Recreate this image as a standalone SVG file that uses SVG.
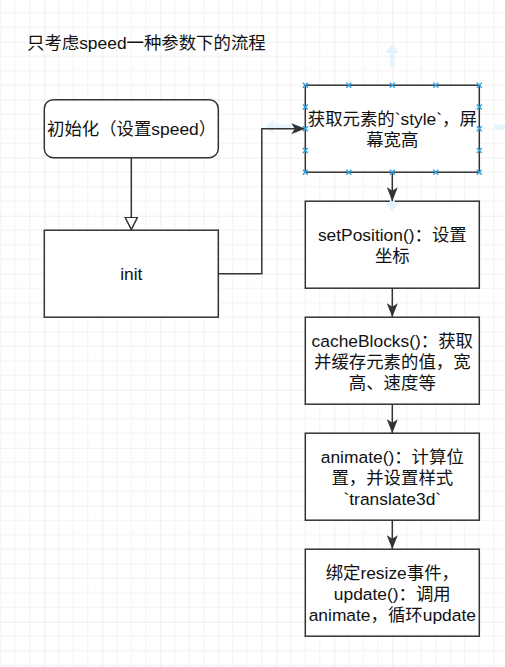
<svg xmlns="http://www.w3.org/2000/svg" width="505" height="667" viewBox="0 0 505 667">
<defs>
<pattern id="grid" x="44.3" y="41.7" width="58" height="58" patternUnits="userSpaceOnUse">
<path d="M14.5,0V58M29,0V58M43.5,0V58M0,14.5H58M0,29H58M0,43.5H58" stroke="#f2f2f2" stroke-width="1" fill="none"/>
<path d="M0,0V58M0,0H58" stroke="#e2e2e2" stroke-width="1" fill="none"/>
</pattern>
<marker id="arrow" viewBox="0 0 14 11" markerWidth="14" markerHeight="11" refX="14" refY="5.5" orient="auto" markerUnits="userSpaceOnUse">
<path d="M0,0 L14,5.5 L0,11 L3.5,5.5 Z" fill="#333"/>
</marker>
<marker id="openTri" viewBox="0 0 14 14" markerWidth="14" markerHeight="14" refX="13" refY="7" orient="auto" markerUnits="userSpaceOnUse">
<path d="M0.8,0.8 L13,7 L0.8,13.2 Z" fill="#fff" stroke="#333" stroke-width="1.5"/>
</marker>
<path id="xm" d="M-2.5,-2.5 L2.5,2.5 M-2.5,2.5 L2.5,-2.5" stroke="#2ea3e3" stroke-width="1.4" fill="none"/>
</defs>
<style>
.box{fill:#fff;stroke:#333;stroke-width:1.5}
.lbl{font-family:"Liberation Sans","Noto Sans CJK SC",sans-serif;font-size:17.4px;fill:#111}
.mid{text-anchor:middle}
.edge{fill:none;stroke:#333;stroke-width:1.5}
.hover{fill:#e4f3fc}
</style>
<rect x="0" y="0" width="505" height="667" fill="#fff"/>
<rect x="0" y="0" width="505" height="667" fill="url(#grid)"/>

<g id="title">
<text class="lbl" x="27" y="48.5">只考虑speed一种参数下的流程</text>
</g>

<g id="node-initSpeed">
<rect class="box" x="44.3" y="99.7" width="174" height="58" rx="9" ry="9"/>
<text class="lbl" x="47" y="134.5">初始化（设置speed）</text>
</g>

<g id="node-init">
<rect class="box" x="44.3" y="230.2" width="174" height="87"/>
<text class="lbl mid" x="131.3" y="279.5">init</text>
</g>

<g id="node-getStyle">
<rect class="box" x="305.3" y="85.2" width="174" height="87"/>
<text class="lbl mid" x="392.3" y="124.5">获取元素的`style`，屏</text>
<text class="lbl mid" x="392.3" y="145.5">幕宽高</text>
</g>

<g id="node-setPosition">
<rect class="box" x="305.3" y="201.2" width="174" height="87"/>
<text class="lbl mid" x="392.3" y="240.8">setPosition()：设置</text>
<text class="lbl mid" x="392.3" y="261.7">坐标</text>
</g>

<g id="node-cacheBlocks">
<rect class="box" x="305.3" y="317.2" width="174" height="87"/>
<text class="lbl mid" x="392.3" y="347.3">cacheBlocks()：获取</text>
<text class="lbl mid" x="392.3" y="368.2">并缓存元素的值，宽</text>
<text class="lbl mid" x="392.3" y="389.1">高、速度等</text>
</g>

<g id="node-animate">
<rect class="box" x="305.3" y="433.2" width="174" height="87"/>
<text class="lbl mid" x="392.3" y="463.3">animate()：计算位</text>
<text class="lbl mid" x="392.3" y="484.2">置，并设置样式</text>
<text class="lbl mid" x="392.3" y="505.1">`translate3d`</text>
</g>

<g id="node-update">
<rect class="box" x="305.3" y="549.2" width="174" height="87"/>
<text class="lbl mid" x="392.3" y="579.3">绑定resize事件，</text>
<text class="lbl mid" x="392.3" y="600.2"> update()：调用</text>
<text class="lbl mid" x="392.3" y="621.1">animate，循环update</text>
</g>

<g id="hover-hints">
<path class="hover" d="M392.3,43.5 L399.3,53 L394.8,53 L394.8,67 L389.8,67 L389.8,53 L385.3,53 Z"/>
<path class="hover" d="M392.3,212 L399.3,202.5 L394.8,202.5 L394.8,188 L389.8,188 L389.8,202.5 L385.3,202.5 Z"/>
<path class="hover" d="M264.5,127 L274,120 L274,124.5 L291,124.5 L291,129.5 L274,129.5 L274,134 Z"/>
<path class="hover" d="M520,127 L510.5,120 L510.5,124.5 L495,124.5 L495,129.5 L510.5,129.5 L510.5,134 Z"/>
</g>

<g id="connectors">
<path class="edge" d="M131.3,157.7 V229.5" marker-end="url(#openTri)"/>
<path class="edge" d="M218.3,273.7 H261.8 V128.7 H305.3" marker-end="url(#arrow)"/>
<path class="edge" d="M392.3,172.2 V201.2" marker-end="url(#arrow)"/>
<path class="edge" d="M392.3,288.2 V317.2" marker-end="url(#arrow)"/>
<path class="edge" d="M392.3,404.2 V433.2" marker-end="url(#arrow)"/>
<path class="edge" d="M392.3,520.2 V549.2" marker-end="url(#arrow)"/>
</g>

<g id="selection-handles">
<use href="#xm" x="305.3" y="85.2"/><use href="#xm" x="348.8" y="85.2"/><use href="#xm" x="392.3" y="85.2"/><use href="#xm" x="435.8" y="85.2"/><use href="#xm" x="479.3" y="85.2"/>
<use href="#xm" x="305.3" y="172.2"/><use href="#xm" x="348.8" y="172.2"/><use href="#xm" x="392.3" y="172.2"/><use href="#xm" x="435.8" y="172.2"/><use href="#xm" x="479.3" y="172.2"/>
<use href="#xm" x="305.3" y="106.95"/><use href="#xm" x="305.3" y="128.7"/><use href="#xm" x="305.3" y="150.45"/>
<use href="#xm" x="479.3" y="106.95"/><use href="#xm" x="479.3" y="128.7"/><use href="#xm" x="479.3" y="150.45"/>
</g>
</svg>
